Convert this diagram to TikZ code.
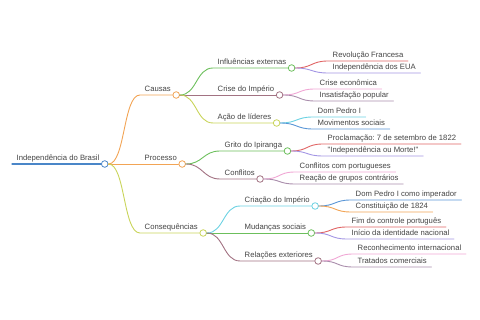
\documentclass[tikz,border=0pt]{standalone}
\usepackage{fontspec}
\setmainfont{Liberation Sans}
\usetikzlibrary{positioning}
\frenchspacing
\definecolor{txtgray}{HTML}{444444}
\definecolor{cblue}{HTML}{4A86C8}
\definecolor{corange}{HTML}{F2A455}
\definecolor{cyellow}{HTML}{C9D45A}
\definecolor{cgreen}{HTML}{6CBF5C}
\definecolor{cmauve}{HTML}{A27282}
\definecolor{ccyan}{HTML}{6CD2E2}
\definecolor{cred}{HTML}{E06464}
\definecolor{cviolet}{HTML}{A396E4}
\definecolor{cpink}{HTML}{F0A6D4}
\definecolor{cplum}{HTML}{AA8EAC}
\definecolor{cblue2}{HTML}{5A96D6}

\begin{document}
\begin{tikzpicture}[x=1pt, y=-1pt,
                font=\fontsize{7.7}{9}\selectfont,
                topic/.style={anchor=south west, inner xsep=4.5pt, inner ysep=1.4pt, text height=5.6pt, text depth=1.6pt, text=txtgray},
                dot/.style={circle, fill=white, line width=0.8pt, inner sep=0pt, minimum size=6.6pt},
                edge/.style={line width=0.9pt, line cap=round},
            ]
            \useasboundingbox (0,0) rectangle (480,320);

            % root and first level
            \node[topic] (root) at (12,164) {Independência do Brasil};
            \node[dot, draw=cblue, right=-3pt of root.south east] (rootC) {};
            \node[topic] (causas) at (140,95) {Causas};
            \node[dot, draw=corange, right=-3pt of causas.south east] (causasC) {};
            \node[topic] (processo) at (140,164) {Processo};
            \node[dot, draw=corange, right=-3pt of processo.south east] (processoC) {};
            \node[topic] (consequencias) at (140,233) {Consequências};
            \node[dot, draw=cyellow, right=-3pt of consequencias.south east] (consequenciasC) {};

            % second level
            \node[topic] (influencias) at (213,68) {Influências externas};
            \node[dot, draw=cgreen, right=-3pt of influencias.south east] (influenciasC) {};
            \node[topic] (crise) at (213,95) {Crise do Império};
            \node[dot, draw=cmauve, right=-3pt of crise.south east] (criseC) {};
            \node[topic] (acao) at (213,123) {Ação de líderes};
            \node[dot, draw=cyellow, right=-3pt of acao.south east] (acaoC) {};
            \node[topic] (grito) at (220,151) {Grito do Ipiranga};
            \node[dot, draw=cgreen, right=-3pt of grito.south east] (gritoC) {};
            \node[topic] (conflitos) at (220,179) {Conflitos};
            \node[dot, draw=cmauve, right=-3pt of conflitos.south east] (conflitosC) {};
            \node[topic] (criacao) at (240,206) {Criação do Império};
            \node[dot, draw=ccyan, right=-3pt of criacao.south east] (criacaoC) {};
            \node[topic] (mudancas) at (240,233) {Mudanças sociais};
            \node[dot, draw=cgreen, right=-3pt of mudancas.south east] (mudancasC) {};
            \node[topic] (relacoes) at (240,261) {Relações exteriores};
            \node[dot, draw=cmauve, right=-3pt of relacoes.south east] (relacoesC) {};

            % leaves
            \node[topic] (revolucao) at (328,61) {Revolução Francesa};
            \node[topic] (eua) at (328,73) {Independência dos EUA};
            \node[topic] (economica) at (315,89) {Crise econômica};
            \node[topic] (insatisfacao) at (315,101) {Insatisfação popular};
            \node[topic] (pedro) at (313,117) {Dom Pedro I};
            \node[topic] (movimentos) at (313,129) {Movimentos sociais};
            \node[topic] (proclamacao) at (323,144) {Proclamação: 7 de setembro de 1822};
            \node[topic] (morte) at (323,156) {\textquotedbl Independência ou Morte!\textquotedbl};
            \node[topic] (portugueses) at (295,172) {Conflitos com portugueses};
            \node[topic] (reacao) at (295,184) {Reação de grupos contrários};
            \node[topic] (imperador) at (351,200) {Dom Pedro I como imperador};
            \node[topic] (constituicao) at (351,212) {Constituição de 1824};
            \node[topic] (fim) at (347,227) {Fim do controle português};
            \node[topic] (identidade) at (347,239) {Início da identidade nacional};
            \node[topic] (reconhecimento) at (353,254) {Reconhecimento internacional};
            \node[topic] (tratados) at (353,267) {Tratados comerciais};

            \draw[edge, cblue, line width=1.2pt] (root.south west) -- (rootC.west);
            \draw[edge, corange] (rootC.east) .. controls +(17,0) and +(-17,0) .. (causas.south west) -- (causasC.west);
            \draw[edge, corange] (rootC.east) -- (processoC.west);
            \draw[edge, cyellow] (rootC.east) .. controls +(17,0) and +(-17,0) .. (consequencias.south west) -- (consequenciasC.west);

            \draw[edge, cgreen] (causasC.east) .. controls +(17,0) and +(-17,0) .. (influencias.south west) -- (influenciasC.west);
            \draw[edge, cmauve] (causasC.east) -- (criseC.west);
            \draw[edge, cyellow] (causasC.east) .. controls +(17,0) and +(-17,0) .. (acao.south west) -- (acaoC.west);
            \draw[edge, cgreen] (processoC.east) .. controls +(17,0) and +(-17,0) .. (grito.south west) -- (gritoC.west);
            \draw[edge, cmauve] (processoC.east) .. controls +(17,0) and +(-17,0) .. (conflitos.south west) -- (conflitosC.west);
            \draw[edge, ccyan] (consequenciasC.east) .. controls +(17,0) and +(-17,0) .. (criacao.south west) -- (criacaoC.west);
            \draw[edge, cgreen] (consequenciasC.east) -- (mudancasC.west);
            \draw[edge, cmauve] (consequenciasC.east) .. controls +(17,0) and +(-17,0) .. (relacoes.south west) -- (relacoesC.west);

            \draw[edge, cred] (influenciasC.east) .. controls +(17,0) and +(-17,0) .. (revolucao.south west) -- (revolucao.south east);
            \draw[edge, cviolet] (influenciasC.east) .. controls +(17,0) and +(-17,0) .. (eua.south west) -- (eua.south east);
            \draw[edge, cpink] (criseC.east) .. controls +(17,0) and +(-17,0) .. (economica.south west) -- (economica.south east);
            \draw[edge, cplum] (criseC.east) .. controls +(17,0) and +(-17,0) .. (insatisfacao.south west) -- (insatisfacao.south east);
            \draw[edge, ccyan] (acaoC.east) .. controls +(17,0) and +(-17,0) .. (pedro.south west) -- (pedro.south east);
            \draw[edge, cblue2] (acaoC.east) .. controls +(17,0) and +(-17,0) .. (movimentos.south west) -- (movimentos.south east);
            \draw[edge, cred] (gritoC.east) .. controls +(17,0) and +(-17,0) .. (proclamacao.south west) -- (proclamacao.south east);
            \draw[edge, cviolet] (gritoC.east) .. controls +(17,0) and +(-17,0) .. (morte.south west) -- (morte.south east);
            \draw[edge, cpink] (conflitosC.east) .. controls +(17,0) and +(-17,0) .. (portugueses.south west) -- (portugueses.south east);
            \draw[edge, cplum] (conflitosC.east) .. controls +(17,0) and +(-17,0) .. (reacao.south west) -- (reacao.south east);
            \draw[edge, cblue2] (criacaoC.east) .. controls +(17,0) and +(-17,0) .. (imperador.south west) -- (imperador.south east);
            \draw[edge, corange] (criacaoC.east) .. controls +(17,0) and +(-17,0) .. (constituicao.south west) -- (constituicao.south east);
            \draw[edge, cred] (mudancasC.east) .. controls +(17,0) and +(-17,0) .. (fim.south west) -- (fim.south east);
            \draw[edge, cviolet] (mudancasC.east) .. controls +(17,0) and +(-17,0) .. (identidade.south west) -- (identidade.south east);
            \draw[edge, cpink] (relacoesC.east) .. controls +(17,0) and +(-17,0) .. (reconhecimento.south west) -- (reconhecimento.south east);
            \draw[edge, cplum] (relacoesC.east) .. controls +(17,0) and +(-17,0) .. (tratados.south west) -- (tratados.south east);
        \end{tikzpicture}
\end{document}
